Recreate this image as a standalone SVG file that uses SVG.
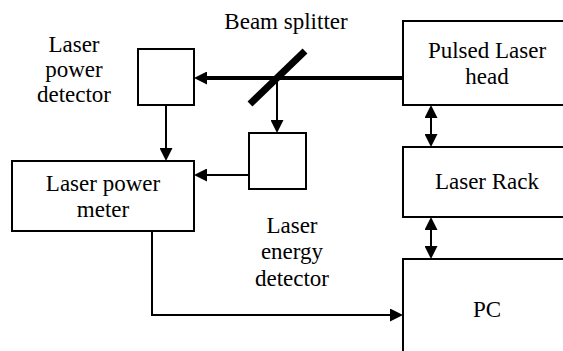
<svg xmlns="http://www.w3.org/2000/svg" width="563" height="351" viewBox="0 0 563 351">
<style>
.box{fill:#fff;stroke:#000;stroke-width:2}
.t{font-size:23px;fill:#000;text-anchor:middle}
.c{fill:none;stroke:#000;stroke-width:2}
.beam{fill:none;stroke:#000;stroke-width:4}
</style>
<defs>
<marker id="ah" markerUnits="userSpaceOnUse" markerWidth="13" markerHeight="13" refX="0" refY="6.5" orient="auto-start-reverse" viewBox="0 0 13 13">
<path d="M0,0 L13,6.5 L0,13 z" fill="#000"/>
</marker>
</defs>
<rect width="563" height="351" fill="#fff"/>
<g id="connectors">
<line class="beam" x1="403" y1="78" x2="207" y2="78" marker-end="url(#ah)"/>
<line x1="250" y1="104" x2="305" y2="51" stroke="#000" stroke-width="7"/>
<line class="c" x1="277" y1="78" x2="277" y2="120" stroke-width="2.5" marker-end="url(#ah)"/>
<line class="c" x1="166" y1="105" x2="166" y2="148" marker-end="url(#ah)"/>
<line class="c" x1="249" y1="175" x2="207" y2="175" marker-end="url(#ah)"/>
<path class="c" d="M152,231 V315 H390" marker-end="url(#ah)"/>
<line class="c" x1="431" y1="118" x2="431" y2="134" marker-start="url(#ah)" marker-end="url(#ah)"/>
<line class="c" x1="431" y1="230" x2="431" y2="246" marker-start="url(#ah)" marker-end="url(#ah)"/>
</g>
<g font-family="'Liberation Serif', 'Times New Roman', 'DejaVu Serif', serif">
<g id="beam-splitter-label">
<text class="t" x="286" y="29">Beam splitter</text>
</g>
<g id="laser-power-detector">
<rect class="box" x="138" y="49" width="56" height="56"/>
<text class="t" x="74" y="52">Laser</text>
<text class="t" x="74" y="77">power</text>
<text class="t" x="74" y="102">detector</text>
</g>
<g id="laser-energy-detector">
<rect class="box" x="249" y="133" width="57" height="56"/>
<text class="t" x="292" y="233">Laser</text>
<text class="t" x="292" y="259">energy</text>
<text class="t" x="292" y="286">detector</text>
</g>
<g id="laser-power-meter">
<rect class="box" x="12" y="161" width="182" height="70"/>
<text class="t" x="103" y="191">Laser power</text>
<text class="t" x="103" y="217">meter</text>
</g>
<g id="pulsed-laser-head">
<rect class="box" x="403" y="21" width="170" height="84"/>
<text class="t" x="487" y="58">Pulsed Laser</text>
<text class="t" x="487" y="84">head</text>
</g>
<g id="laser-rack">
<rect class="box" x="403" y="147" width="170" height="70"/>
<text class="t" x="487" y="189">Laser Rack</text>
</g>
<g id="pc">
<rect class="box" x="403" y="259" width="170" height="100"/>
<text class="t" x="487" y="317">PC</text>
</g>
</g>
</svg>
